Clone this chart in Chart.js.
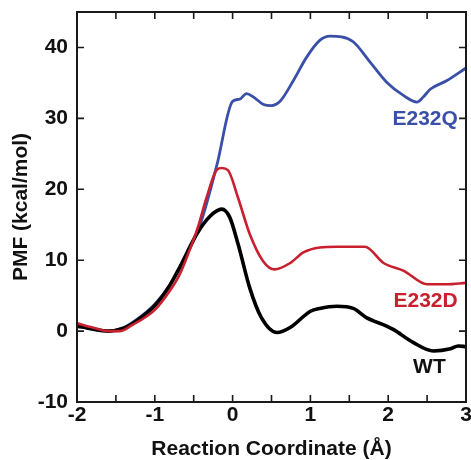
<!DOCTYPE html>
<html>
<head>
<meta charset="utf-8">
<script src="https://cdn.jsdelivr.net/npm/chart.js@4/dist/chart.umd.min.js"></script>
<style>
  html, body { margin: 0; padding: 0; background: #ffffff; }
  #wrap { width: 471px; height: 460px; position: relative; }
</style>
</head>
<body>
<div id="wrap"><canvas id="c" width="471" height="460"></canvas></div>
<script>
// ---- Data ----
const wtX = [-2.0, -1.8, -1.6, -1.4, -1.24, -1.0, -0.81, -0.68, -0.46, -0.29, -0.14, -0.035, 0.072, 0.22, 0.37, 0.57, 0.74, 1.0, 1.12, 1.34, 1.55, 1.72, 1.98, 2.07, 2.32, 2.58, 2.8, 2.9, 3.0];
const wtY = [0.7, 0.3, 0.0, 0.4, 1.4, 3.6, 6.4, 9.0, 13.7, 16.2, 17.2, 16.0, 12.2, 6.1, 1.9, -0.2, 0.5, 2.8, 3.2, 3.5, 3.2, 1.9, 0.7, 0.2, -1.6, -2.8, -2.5, -2.1, -2.2];

const e232dX = [-2.0, -1.8, -1.6, -1.45, -1.3, -1.0, -0.8, -0.68, -0.55, -0.45, -0.33, -0.2, -0.14, -0.06, 0.07, 0.22, 0.39, 0.54, 0.74, 0.91, 1.12, 1.34, 1.7, 1.94, 2.2, 2.5, 2.75, 3.0];
const e232dY = [1.1, 0.5, 0.0, 0.0, 0.8, 3.0, 5.8, 8.0, 11.5, 14.5, 19.0, 22.8, 23.0, 22.7, 18.8, 13.7, 9.9, 8.7, 9.6, 11.1, 11.8, 11.9, 11.9, 9.6, 8.5, 6.6, 6.6, 6.8];

const e232qX = [-2.0, -1.8, -1.6, -1.4, -1.2, -1.0, -0.8, -0.6, -0.4, -0.2, 0.0, 0.09, 0.18, 0.27, 0.39, 0.5, 0.61, 0.78, 0.95, 1.12, 1.25, 1.4, 1.55, 1.77, 1.98, 2.2, 2.37, 2.45, 2.54, 2.75, 3.0];
const e232qY = [0.8, 0.2, 0.0, 0.5, 1.9, 3.8, 6.6, 10.5, 15.6, 23.5, 32.4, 32.7, 33.5, 33.0, 32.0, 31.8, 32.4, 35.3, 38.6, 41.0, 41.6, 41.5, 40.8, 37.9, 35.1, 33.2, 32.3, 33.0, 34.1, 35.3, 37.1];

const xTickValues = [-2, -1, 0, 1, 2, 3];
const xTickLabels = ['-2', '-1', '0', '1', '2', '3'];
const yTickValues = [-10, 0, 10, 20, 30, 40];
const yTickLabels = ['-10', '0', '10', '20', '30', '40'];

const seriesNames = ['E232D', 'WT', 'E232Q'];
// label anchor positions in data units
const labelX = [2.48, 2.53, 2.475];
const labelY = [4.2, -5.1, 29.9];

// ---- Styles ----
const colors = { 'E232D': '#c8202f', 'WT': '#000000', 'E232Q': '#3a4fa8' };
const widths = { 'E232D': 2.6, 'WT': 3.6, 'E232Q': 2.8 };
const FONT = '"Liberation Sans", Arial, Helvetica, sans-serif';

function pts(xs, ys) { return xs.map((x, i) => ({ x: x, y: ys[i] })); }
const seriesData = { 'E232D': pts(e232dX, e232dY), 'WT': pts(wtX, wtY), 'E232Q': pts(e232qX, e232qY) };

const frameTicks = {
  id: 'frameTicks',
  afterDatasetsDraw(chart) {
    const { ctx, chartArea: a, scales: { x, y } } = chart;
    ctx.save();
    ctx.strokeStyle = '#1a1a1a';
    ctx.lineWidth = 2;
    ctx.strokeRect(a.left, a.top, a.right - a.left, a.bottom - a.top);
    const tl = 7;
    ctx.lineWidth = 1.6;
    ctx.beginPath();
    for (let i = 0; i < xTickValues.length - 1; i++) {
      for (const v of [xTickValues[i], xTickValues[i] + 0.5]) {
        const px = x.getPixelForValue(v);
        ctx.moveTo(px, a.bottom); ctx.lineTo(px, a.bottom - tl);
        ctx.moveTo(px, a.top); ctx.lineTo(px, a.top + tl);
      }
    }
    for (const v of yTickValues) {
      const py = y.getPixelForValue(v);
      ctx.moveTo(a.left, py); ctx.lineTo(a.left + tl, py);
      ctx.moveTo(a.right, py); ctx.lineTo(a.right - tl, py);
    }
    ctx.stroke();
    ctx.font = 'bold 21px ' + FONT;
    ctx.textAlign = 'center';
    ctx.textBaseline = 'middle';
    seriesNames.forEach((n, i) => {
      ctx.fillStyle = n === 'WT' ? '#111111' : colors[n];
      ctx.fillText(n, x.getPixelForValue(labelX[i]), y.getPixelForValue(labelY[i]));
    });
    ctx.restore();
  }
};

new Chart(document.getElementById('c'), {
  type: 'line',
  data: {
    datasets: seriesNames.map(n => ({
      label: n,
      data: seriesData[n],
      borderColor: colors[n],
      borderWidth: widths[n],
      pointRadius: 0,
      fill: false,
      cubicInterpolationMode: 'monotone',
      borderCapStyle: 'round',
      borderJoinStyle: 'round'
    }))
  },
  options: {
    responsive: false,
    animation: false,
    layout: { padding: { top: 12, right: 5, left: 0, bottom: 0 } },
    plugins: { legend: { display: false }, tooltip: { enabled: false } },
    scales: {
      x: {
        type: 'linear',
        min: -2, max: 3,
        grid: { display: false, drawTicks: false },
        border: { display: false },
        afterBuildTicks: s => { s.ticks = xTickValues.map(v => ({ value: v })); },
        afterFit: s => { s.height = 58; s.paddingLeft = 0; s.paddingRight = 0; },
        ticks: {
          autoSkip: false, maxRotation: 0, padding: 1, color: '#111',
          font: { family: FONT, size: 21, weight: 'bold' },
          callback: (v, i) => xTickLabels[i]
        },
        title: {
          display: true, text: 'Reaction Coordinate (Å)', color: '#111',
          font: { family: FONT, size: 21, weight: 'bold', lineHeight: 1.0 },
          padding: { top: 0, bottom: 0 }
        }
      },
      y: {
        type: 'linear',
        min: -10, max: 45,
        grid: { display: false, drawTicks: false },
        border: { display: false },
        afterBuildTicks: s => { s.ticks = yTickValues.map(v => ({ value: v })); },
        afterFit: s => { s.width = 77; s.paddingTop = 0; s.paddingBottom = 0; },
        ticks: {
          autoSkip: false, padding: 9, color: '#111',
          font: { family: FONT, size: 21, weight: 'bold' },
          callback: (v, i) => yTickLabels[i]
        },
        title: {
          display: true, text: 'PMF (kcal/mol)', color: '#111',
          font: { family: FONT, size: 21, weight: 'bold', lineHeight: 1.2 },
          padding: { top: 9, bottom: 0 }
        }
      }
    }
  },
  plugins: [frameTicks]
});
</script>
</body>
</html>
